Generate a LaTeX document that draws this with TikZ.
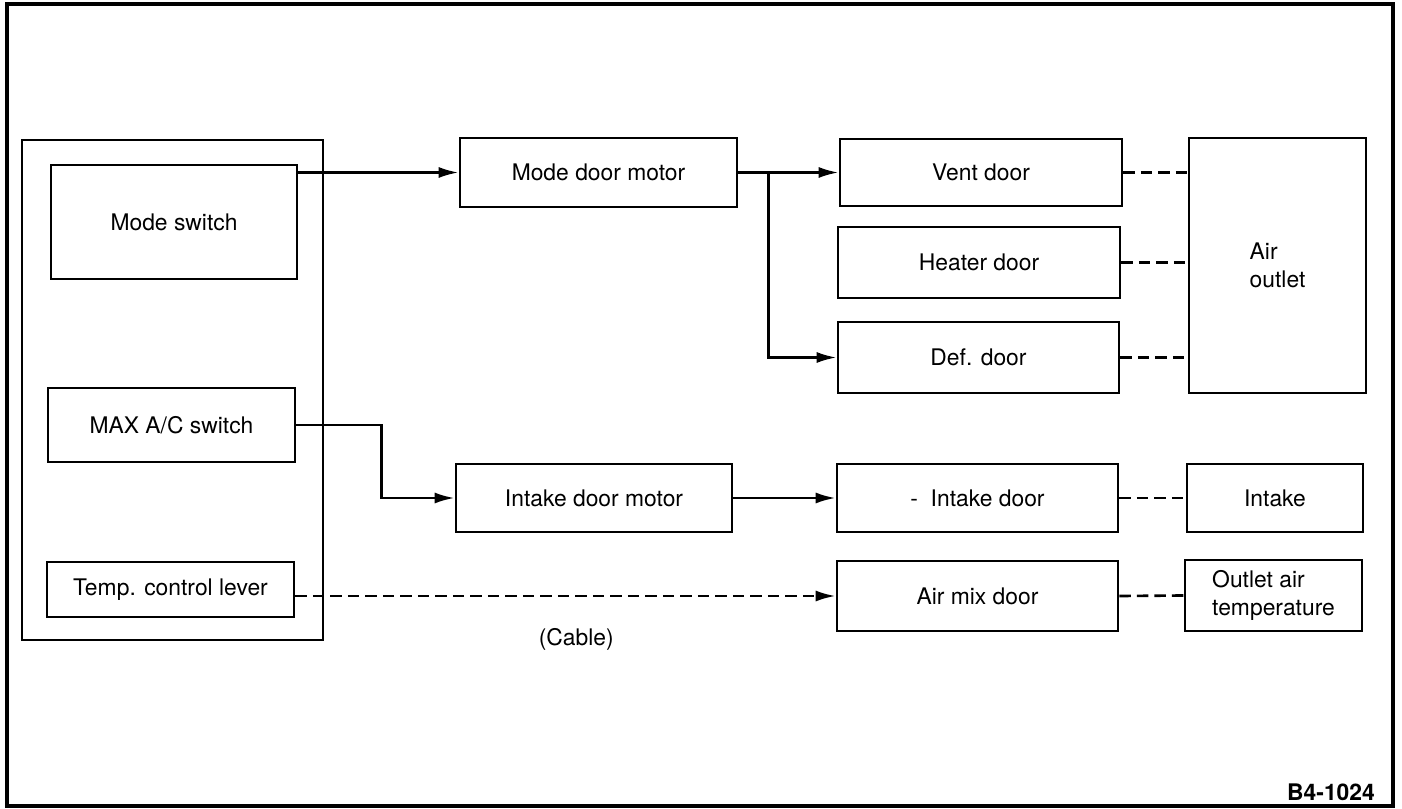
\documentclass[tikz,border=0pt]{standalone}
\usepackage{fontspec}
\setmainfont{TeX Gyre Heros}
\usetikzlibrary{arrows.meta}
\tikzset{
  % --- BOXES ---
  unit-box/.style={
    draw=black,
    line width=1.5pt,
    font=\fontsize{13}{16}\selectfont,
    inner sep=2pt,
    align=center
  },
  unit-box-left/.style={
    unit-box,
    align=left
  },
  % panel container box
  panel-box/.style={
    draw=black,
    line width=1.5pt
  },
  % --- ARROWS ---
  arrw/.style={
    draw=black,
    line width=1.5pt,
    -{Latex[length=4mm,width=2.2mm]}
  },
  cable-arrw/.style={
    arrw,
    dash pattern=on 2.3mm off 1.2mm
  },
  link-dashed/.style={
    draw=black,
    line width=1.5pt,
    dash pattern=on 2.3mm off 1.2mm
  },
  % --- FRAME ---
  frame/.style={
    draw=black,
    line width=1.8pt
  },
  tag/.style={
    font=\fontsize{13}{15}\selectfont\bfseries,
    anchor=east
  },
}
\begin{document}
\begin{tikzpicture}

  \useasboundingbox (0,0) rectangle (28.04,16.16);
  \draw[frame] (0.14,0.04) rectangle (27.86,16.08);

  % --- control panel
  \node[panel-box, minimum width=6.02cm, minimum height=10cm] (panel) at (3.45,8.36) {};
  \node[unit-box, minimum width=4.92cm, minimum height=2.28cm] (modesw)    at (3.48,11.72) {Mode switch};
  \node[unit-box, minimum width=4.94cm, minimum height=1.48cm] (maxac)     at (3.43,7.66)  {MAX A/C switch};
  \node[unit-box, minimum width=4.94cm, minimum height=1.10cm] (templever) at (3.41,4.37)  {Temp. control lever};
  % --- motors
  \node[unit-box, minimum width=5.54cm, minimum height=1.38cm] (modemotor)   at (11.97,12.71) {Mode door motor};
  \node[unit-box, minimum width=5.52cm, minimum height=1.36cm] (intakemotor) at (11.88,6.20)  {Intake door motor};
  % --- doors
  \node[unit-box, minimum width=5.64cm, minimum height=1.34cm] (vent)       at (19.62,12.71) {Vent door};
  \node[unit-box, minimum width=5.64cm, minimum height=1.42cm] (heater)     at (19.58,10.91) {Heater door};
  \node[unit-box, minimum width=5.62cm, minimum height=1.42cm] (def)        at (19.57,9.01)  {Def. door};
  \node[unit-box, minimum width=5.62cm, minimum height=1.36cm] (intakedoor) at (19.55,6.20)  {-\ \ Intake door};
  \node[unit-box, minimum width=5.62cm, minimum height=1.40cm] (airmix)     at (19.55,4.24)  {Air mix door};
  % --- results
  \node[unit-box-left, minimum width=3.54cm, minimum height=5.10cm] (airout)  at (25.55,10.85) {Air\\outlet};
  \node[unit-box, minimum width=3.52cm, minimum height=1.36cm]      (intake)  at (25.50,6.20)  {Intake};
  \node[unit-box-left, minimum width=3.54cm, minimum height=1.42cm] (outtemp) at (25.47,4.25)  {Outlet air\\temperature};

  % --- arrows
  \draw[arrw] (modesw.east |- modemotor.west) -- (modemotor.west);
  \draw[arrw] (modemotor.east) -- (vent.west);
  \draw[arrw] (modemotor.east) -- ++(0.6,0) |- (def.west);
  \draw[arrw] (maxac.east) -- ++(1.7,0) |- (intakemotor.west);
  \draw[arrw] (intakemotor.east) -- (intakedoor.west);
  \draw[cable-arrw] (templever.east |- airmix.west) -- (airmix.west)
    node[pos=0.52, below=0.5cm, font=\fontsize{13}{15}\selectfont] (cable) {(Cable)};
  % --- dashed links
  \draw[link-dashed] (vent.east) -- (vent.east -| airout.west);
  \draw[link-dashed] (heater.east) -- (heater.east -| airout.west);
  \draw[link-dashed] (def.east) -- (def.east -| airout.west);
  \draw[link-dashed] (intakedoor.east) -- (intake.west);
  \draw[link-dashed] (airmix.east) -- (outtemp.west);

  \node[tag] (figno) at (27.62,0.32) {B4-1024};

\end{tikzpicture}
\end{document}
